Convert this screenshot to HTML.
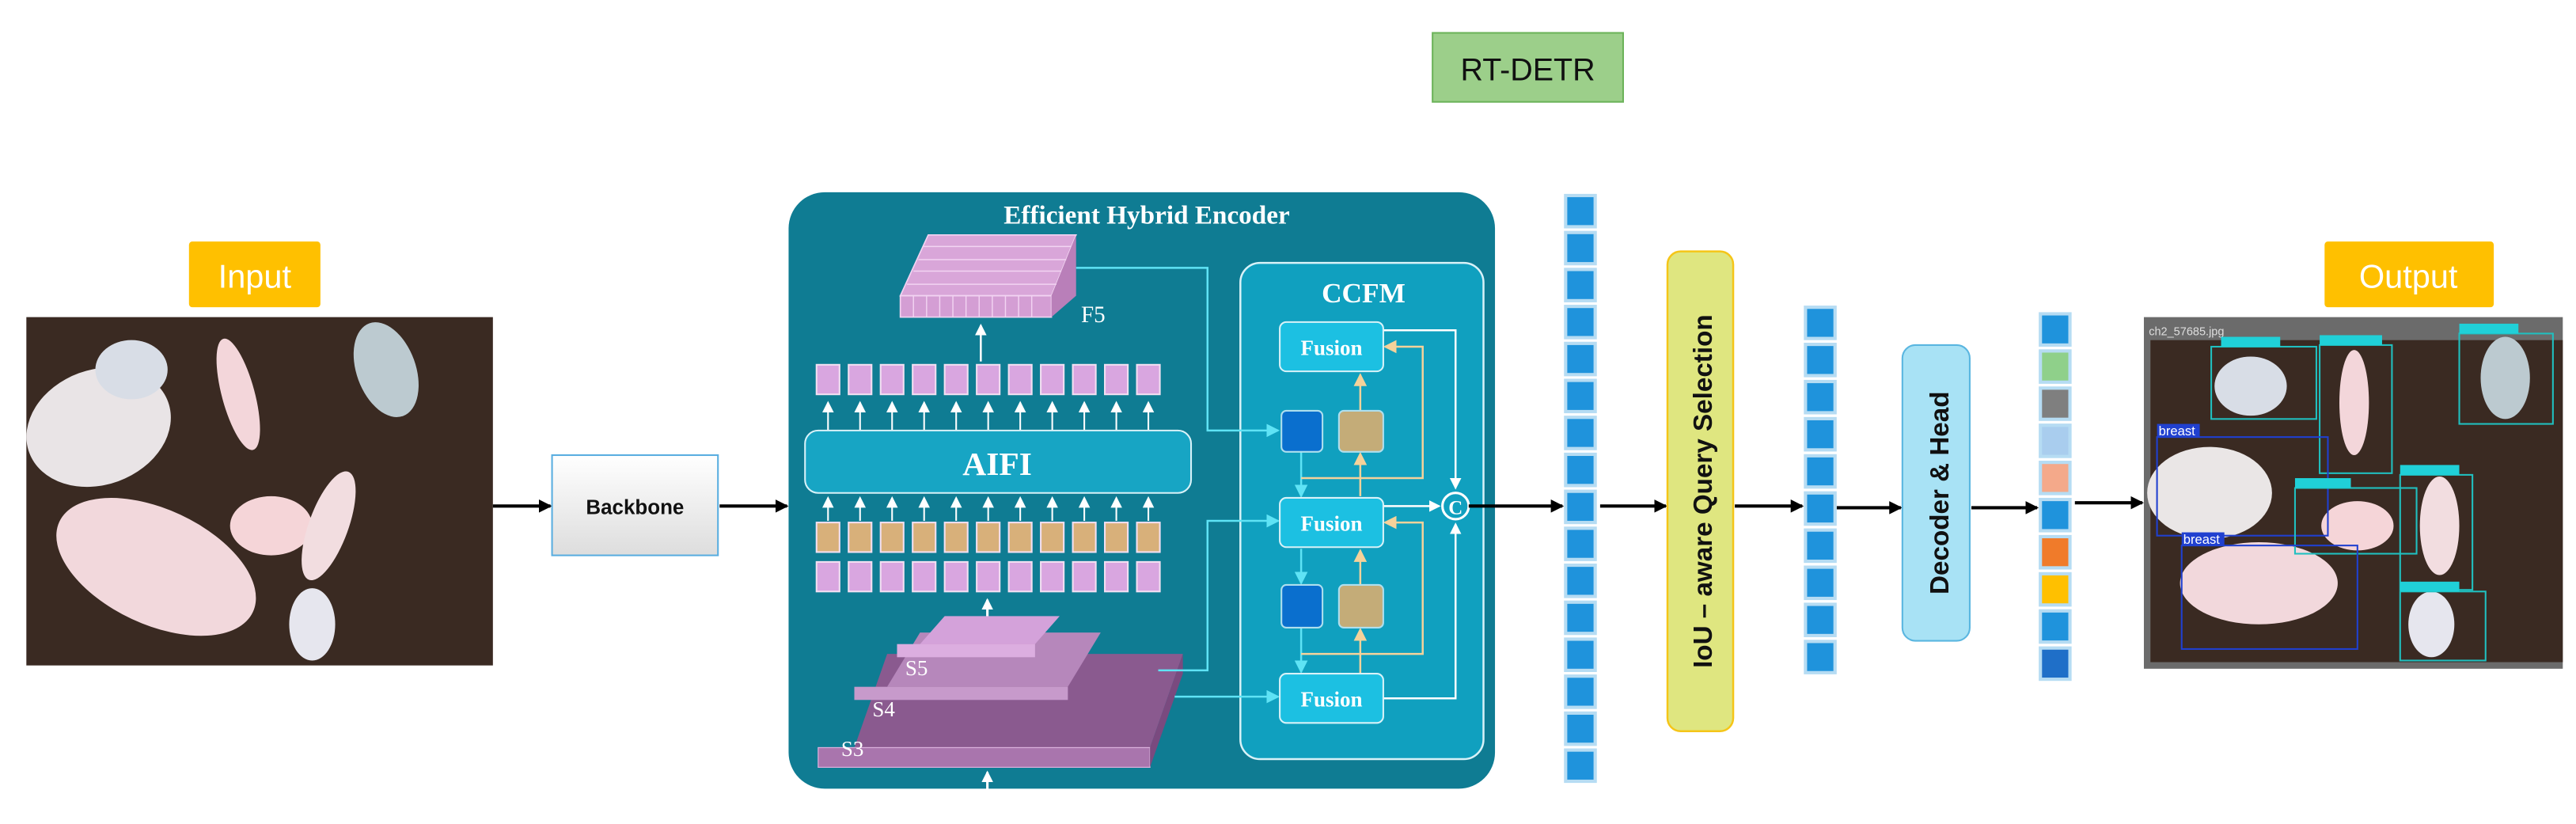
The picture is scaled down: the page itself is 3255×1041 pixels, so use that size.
<!DOCTYPE html>
<html><head><meta charset="utf-8"><style>html,body{margin:0;padding:0;background:#fff}svg{display:block}</style></head>
<body>
<svg width="3255" height="1041" viewBox="0 0 1568 501.5" xmlns="http://www.w3.org/2000/svg" font-family="Liberation Sans, sans-serif">
<defs>
<marker id="ab" markerWidth="8" markerHeight="8" refX="7" refY="4" orient="auto" markerUnits="userSpaceOnUse"><path d="M0,0 L8,4 L0,8z" fill="#000"/></marker>
<marker id="aw" markerWidth="7" markerHeight="7" refX="6" refY="3.5" orient="auto" markerUnits="userSpaceOnUse"><path d="M0,0 L7,3.5 L0,7z" fill="#fff"/></marker>
<marker id="ac" markerWidth="8" markerHeight="8" refX="7" refY="4" orient="auto" markerUnits="userSpaceOnUse"><path d="M0,0 L8,4 L0,8z" fill="#5fe3f5"/></marker>
<marker id="at" markerWidth="8" markerHeight="8" refX="7" refY="4" orient="auto" markerUnits="userSpaceOnUse"><path d="M0,0 L8,4 L0,8z" fill="#f5d29a"/></marker>
<linearGradient id="bb" x1="0" y1="0" x2="0" y2="1"><stop offset="0" stop-color="#fff"/><stop offset="1" stop-color="#ddd"/></linearGradient>
</defs>

<!-- RT-DETR -->
<rect x="872" y="20" width="116" height="42" fill="#9ccf8a" stroke="#6cb35a" stroke-width="1"/>
<text x="930" y="49" font-size="19" text-anchor="middle" fill="#111">RT-DETR</text>

<!-- Input -->
<rect x="115" y="147" width="80" height="40" fill="#ffc000" rx="2"/>
<text x="155" y="175" font-size="20" text-anchor="middle" fill="#fff">Input</text>
<rect x="16" y="193" width="284" height="212" fill="#3a2a22"/>
<g fill="#e9e4e6">
<ellipse cx="60" cy="260" rx="45" ry="35" transform="rotate(-20 60 260)"/>
<ellipse cx="95" cy="345" rx="65" ry="35" transform="rotate(25 95 345)" fill="#f2d8dc"/>
<ellipse cx="80" cy="225" rx="22" ry="18" fill="#d8dde6"/>
<ellipse cx="145" cy="240" rx="10" ry="35" transform="rotate(-15 145 240)" fill="#f3d6da"/>
<ellipse cx="235" cy="225" rx="18" ry="30" transform="rotate(-20 235 225)" fill="#bccad0"/>
<ellipse cx="165" cy="320" rx="25" ry="18" fill="#f5d5d8"/>
<ellipse cx="200" cy="320" rx="12" ry="35" transform="rotate(20 200 320)" fill="#f2dde0"/>
<ellipse cx="190" cy="380" rx="14" ry="22" fill="#e6e6ee"/>
</g>

<!-- arrows -->
<g stroke="#000" stroke-width="2" fill="none" marker-end="url(#ab)">
<line x1="300" y1="308" x2="335" y2="308"/>
<line x1="438" y1="308" x2="479" y2="308"/>
<line x1="910" y1="308" x2="951" y2="308"/>
<line x1="974" y1="308" x2="1014" y2="308"/>
<line x1="1056" y1="308" x2="1097" y2="308"/>
<line x1="1118" y1="309" x2="1157" y2="309"/>
<line x1="1200" y1="309" x2="1240" y2="309"/>
<line x1="1263" y1="306" x2="1304" y2="306"/>
</g>

<!-- Backbone -->
<rect x="336" y="277" width="101" height="61" fill="url(#bb)" stroke="#5aaee0" stroke-width="1"/>
<text x="386.5" y="313" font-size="12.5" font-weight="bold" text-anchor="middle" fill="#111">Backbone</text>

<!-- Encoder -->
<rect x="480" y="117" width="430" height="363" rx="22" fill="#0f7c93"/>
<text x="698" y="136" font-family="Liberation Serif, serif" font-size="16" font-weight="bold" fill="#fff" text-anchor="middle">Efficient Hybrid Encoder</text>
<!-- F5 grid -->
<polygon points="565,143 655,143 640,180 548,180" fill="#d9a6d9" stroke="#f2d4f2" stroke-width="0.8"/>
<rect x="548" y="180" width="92" height="13" fill="#d49ed4" stroke="#f2d4f2" stroke-width="0.8"/>
<polygon points="640,180 655,143 655,180 640,193" fill="#b97fb9"/>
<g stroke="#f2d4f2" stroke-width="0.7">
<line x1="562" y1="150" x2="652" y2="150"/><line x1="559" y1="158" x2="649" y2="158"/><line x1="556" y1="165" x2="646" y2="165"/><line x1="552" y1="173" x2="643" y2="173"/>
<line x1="556" y1="180" x2="556" y2="193"/><line x1="564" y1="180" x2="564" y2="193"/><line x1="572" y1="180" x2="572" y2="193"/><line x1="580" y1="180" x2="580" y2="193"/><line x1="588" y1="180" x2="588" y2="193"/><line x1="596" y1="180" x2="596" y2="193"/><line x1="604" y1="180" x2="604" y2="193"/><line x1="612" y1="180" x2="612" y2="193"/><line x1="620" y1="180" x2="620" y2="193"/><line x1="628" y1="180" x2="628" y2="193"/>
</g>
<text x="658" y="196" font-family="Liberation Serif, serif" font-size="14" fill="#fff">F5</text>
<line x1="597" y1="220" x2="597" y2="198" stroke="#fff" stroke-width="1.2" marker-end="url(#aw)"/>
<!-- square rows -->
<g stroke="#f2e0f2" stroke-width="1">
<g fill="#d9a6e0">
<rect x="497" y="222" width="14" height="18"/><rect x="516.5" y="222" width="14" height="18"/><rect x="536" y="222" width="14" height="18"/><rect x="555.5" y="222" width="14" height="18"/><rect x="575" y="222" width="14" height="18"/><rect x="594.5" y="222" width="14" height="18"/><rect x="614" y="222" width="14" height="18"/><rect x="633.5" y="222" width="14" height="18"/><rect x="653" y="222" width="14" height="18"/><rect x="672.5" y="222" width="14" height="18"/><rect x="692" y="222" width="14" height="18"/>
<rect x="497" y="342" width="14" height="18"/><rect x="516.5" y="342" width="14" height="18"/><rect x="536" y="342" width="14" height="18"/><rect x="555.5" y="342" width="14" height="18"/><rect x="575" y="342" width="14" height="18"/><rect x="594.5" y="342" width="14" height="18"/><rect x="614" y="342" width="14" height="18"/><rect x="633.5" y="342" width="14" height="18"/><rect x="653" y="342" width="14" height="18"/><rect x="672.5" y="342" width="14" height="18"/><rect x="692" y="342" width="14" height="18"/>
</g>
<g fill="#d8b07a">
<rect x="497" y="318" width="14" height="18"/><rect x="516.5" y="318" width="14" height="18"/><rect x="536" y="318" width="14" height="18"/><rect x="555.5" y="318" width="14" height="18"/><rect x="575" y="318" width="14" height="18"/><rect x="594.5" y="318" width="14" height="18"/><rect x="614" y="318" width="14" height="18"/><rect x="633.5" y="318" width="14" height="18"/><rect x="653" y="318" width="14" height="18"/><rect x="672.5" y="318" width="14" height="18"/><rect x="692" y="318" width="14" height="18"/>
</g>
</g>
<g stroke="#fff" stroke-width="1" marker-end="url(#aw)">
<line x1="504" y1="262" x2="504" y2="245"/><line x1="523.5" y1="262" x2="523.5" y2="245"/><line x1="543" y1="262" x2="543" y2="245"/><line x1="562.5" y1="262" x2="562.5" y2="245"/><line x1="582" y1="262" x2="582" y2="245"/><line x1="601.5" y1="262" x2="601.5" y2="245"/><line x1="621" y1="262" x2="621" y2="245"/><line x1="640.5" y1="262" x2="640.5" y2="245"/><line x1="660" y1="262" x2="660" y2="245"/><line x1="679.5" y1="262" x2="679.5" y2="245"/><line x1="699" y1="262" x2="699" y2="245"/>
<line x1="504" y1="317" x2="504" y2="303"/><line x1="523.5" y1="317" x2="523.5" y2="303"/><line x1="543" y1="317" x2="543" y2="303"/><line x1="562.5" y1="317" x2="562.5" y2="303"/><line x1="582" y1="317" x2="582" y2="303"/><line x1="601.5" y1="317" x2="601.5" y2="303"/><line x1="621" y1="317" x2="621" y2="303"/><line x1="640.5" y1="317" x2="640.5" y2="303"/><line x1="660" y1="317" x2="660" y2="303"/><line x1="679.5" y1="317" x2="679.5" y2="303"/><line x1="699" y1="317" x2="699" y2="303"/>
</g>
<rect x="490" y="262" width="235" height="38" rx="8" fill="#17a5c4" stroke="#d8f2f8" stroke-width="1"/>
<text x="607" y="289" font-family="Liberation Serif, serif" font-size="20" font-weight="bold" fill="#fff" text-anchor="middle">AIFI</text>
<line x1="601" y1="395" x2="601" y2="365" stroke="#fff" stroke-width="1.5" marker-end="url(#aw)"/>
<!-- S layers -->
<polygon points="520,455 700,455 720,398 540,398" fill="#8a5a8f"/>
<rect x="498" y="455" width="202" height="12" fill="#a975ad" stroke="#d9b0dc" stroke-width="0.6"/>
<polygon points="700,455 720,398 720,410 700,467" fill="#7a4a7f"/>
<polygon points="540,418 650,418 670,385 560,385" fill="#b687bb"/>
<rect x="520" y="418" width="130" height="8" fill="#c79acb"/>
<polygon points="560,392 630,392 645,375 575,375" fill="#d4a2da"/>
<rect x="546" y="392" width="84" height="8" fill="#dcaee0"/>
<text x="551" y="411" font-family="Liberation Serif, serif" font-size="13" fill="#fff">S5</text>
<text x="531" y="436" font-family="Liberation Serif, serif" font-size="13" fill="#fff">S4</text>
<text x="512" y="460" font-family="Liberation Serif, serif" font-size="13" fill="#fff">S3</text>
<line x1="601" y1="482" x2="601" y2="470" stroke="#fff" stroke-width="1.5" marker-end="url(#aw)"/>

<!-- CCFM -->
<rect x="755" y="160" width="148" height="302" rx="12" fill="#10a0bf" stroke="#d8f2f8" stroke-width="1.2"/>
<text x="830" y="184" font-family="Liberation Serif, serif" font-size="17" font-weight="bold" fill="#fff" text-anchor="middle">CCFM</text>
<!-- cyan connectors -->
<g stroke="#5fe3f5" stroke-width="1.2" fill="none" marker-end="url(#ac)">
<polyline points="655,163 735,163 735,262 778,262"/>
<polyline points="705,408 735,408 735,317 778,317"/>
<polyline points="715,424 778,424"/>
<line x1="792" y1="275" x2="792" y2="302"/>
<line x1="792" y1="334" x2="792" y2="355"/>
<line x1="792" y1="382" x2="792" y2="409"/>
</g>
<!-- tan connectors -->
<g stroke="#f5d29a" stroke-width="1.2" fill="none" marker-end="url(#at)">
<line x1="828" y1="250" x2="828" y2="228"/>
<line x1="828" y1="356" x2="828" y2="335"/>
<line x1="828" y1="302" x2="828" y2="276"/>
<line x1="828" y1="410" x2="828" y2="383"/>
<polyline points="792,291 866,291 866,211 843,211"/>
<polyline points="792,398 866,398 866,318 843,318"/>
</g>
<!-- white connectors -->
<g stroke="#fff" stroke-width="1.2" fill="none" marker-end="url(#aw)">
<polyline points="842,201 886,201 886,297"/>
<polyline points="842,425 886,425 886,319"/>
<line x1="842" y1="308" x2="876" y2="308"/>
</g>
<circle cx="886" cy="308" r="8" fill="#10a0bf" stroke="#fff" stroke-width="1.5"/>
<text x="886" y="313" font-family="Liberation Serif, serif" font-size="12" font-weight="bold" fill="#fff" text-anchor="middle">C</text>
<line x1="894" y1="308" x2="910" y2="308" stroke="#000" stroke-width="2"/>
<g fill="#1cc0e2" stroke="#d8f2f8" stroke-width="1">
<rect x="779" y="196" width="63" height="30" rx="4"/>
<rect x="779" y="303" width="63" height="30" rx="4"/>
<rect x="779" y="410" width="63" height="30" rx="4"/>
</g>
<g font-family="Liberation Serif, serif" font-size="13" font-weight="bold" fill="#fff" text-anchor="middle">
<text x="810.5" y="216">Fusion</text><text x="810.5" y="323">Fusion</text><text x="810.5" y="430">Fusion</text>
</g>
<g stroke="#aedfee" stroke-width="1">
<rect x="780" y="250" width="25" height="25" rx="3" fill="#0a6fce"/>
<rect x="780" y="356" width="25" height="26" rx="3" fill="#0a6fce"/>
<rect x="815" y="250" width="27" height="25" rx="3" fill="#c4ac78"/>
<rect x="815" y="356" width="27" height="26" rx="3" fill="#c4ac78"/>
</g>

<!-- columns -->
<g fill="#1f93dc" stroke="#b6dcf3" stroke-width="2">
<rect x="953" y="119" width="18" height="19"/><rect x="953" y="141.5" width="18" height="19"/><rect x="953" y="164" width="18" height="19"/><rect x="953" y="186.5" width="18" height="19"/><rect x="953" y="209" width="18" height="19"/><rect x="953" y="231.5" width="18" height="19"/><rect x="953" y="254" width="18" height="19"/><rect x="953" y="276.5" width="18" height="19"/><rect x="953" y="299" width="18" height="19"/><rect x="953" y="321.5" width="18" height="19"/><rect x="953" y="344" width="18" height="19"/><rect x="953" y="366.5" width="18" height="19"/><rect x="953" y="389" width="18" height="19"/><rect x="953" y="411.5" width="18" height="19"/><rect x="953" y="434" width="18" height="19"/><rect x="953" y="456.5" width="18" height="19"/>
<rect x="1099" y="187" width="18" height="19"/><rect x="1099" y="209.6" width="18" height="19"/><rect x="1099" y="232.2" width="18" height="19"/><rect x="1099" y="254.8" width="18" height="19"/><rect x="1099" y="277.4" width="18" height="19"/><rect x="1099" y="300" width="18" height="19"/><rect x="1099" y="322.6" width="18" height="19"/><rect x="1099" y="345.2" width="18" height="19"/><rect x="1099" y="367.8" width="18" height="19"/><rect x="1099" y="390.4" width="18" height="19"/>
<rect x="1242" y="191" width="18" height="19"/>
<rect x="1242" y="213.6" width="18" height="19" fill="#8fd08a"/>
<rect x="1242" y="236.2" width="18" height="19" fill="#7f7f7f"/>
<rect x="1242" y="258.8" width="18" height="19" fill="#a9cdee"/>
<rect x="1242" y="281.4" width="18" height="19" fill="#f4a98a"/>
<rect x="1242" y="304" width="18" height="19"/>
<rect x="1242" y="326.6" width="18" height="19" fill="#f07b2a"/>
<rect x="1242" y="349.2" width="18" height="19" fill="#ffc000"/>
<rect x="1242" y="371.8" width="18" height="19"/>
<rect x="1242" y="394.4" width="18" height="19" fill="#1f6fc8"/>
</g>

<!-- IoU -->
<rect x="1015" y="153" width="40" height="292" rx="8" fill="#dfe680" stroke="#f5c518" stroke-width="1.2"/>
<text transform="translate(1042 299) rotate(-90)" font-size="16" font-weight="bold" text-anchor="middle" fill="#111">IoU – aware Query Selection</text>
<!-- Decoder -->
<rect x="1158" y="210" width="41" height="180" rx="8" fill="#a8e2f5" stroke="#5ab6e0" stroke-width="1"/>
<text transform="translate(1186 300) rotate(-90)" font-size="16" font-weight="bold" text-anchor="middle" fill="#111">Decoder &amp; Head</text>

<!-- Output -->
<rect x="1415" y="147" width="103" height="40" fill="#ffc000" rx="2"/>
<text x="1466" y="175" font-size="20" text-anchor="middle" fill="#fff">Output</text>
<rect x="1305" y="193" width="255" height="214" fill="#6b6b6b"/>
<rect x="1309" y="207" width="251" height="196" fill="#3a2a22"/>
<text x="1308" y="204" font-size="7" fill="#ddd">ch2_57685.jpg</text>
<g fill="#e9e4e6">
<ellipse cx="1370" cy="235" rx="22" ry="18" fill="#d8dde6"/>
<ellipse cx="1433" cy="245" rx="9" ry="32" fill="#f3d6da"/>
<ellipse cx="1525" cy="230" rx="15" ry="25" fill="#bccad0"/>
<ellipse cx="1345" cy="300" rx="38" ry="28" fill="#eae6e6"/>
<ellipse cx="1375" cy="355" rx="48" ry="25" fill="#f2d8dc"/>
<ellipse cx="1435" cy="320" rx="22" ry="15" fill="#f5d5d8"/>
<ellipse cx="1485" cy="320" rx="12" ry="30" fill="#f2dde0"/>
<ellipse cx="1480" cy="380" rx="14" ry="20" fill="#e6e6ee"/>
</g>
<g fill="none" stroke-width="1">
<rect x="1346" y="211" width="64" height="44" stroke="#20c0c0"/>
<rect x="1412" y="210" width="44" height="78" stroke="#20c0c0"/>
<rect x="1497" y="203" width="57" height="55" stroke="#20c0c0"/>
<rect x="1313" y="266" width="104" height="60" stroke="#2040d0"/>
<rect x="1397" y="297" width="74" height="40" stroke="#20c0c0"/>
<rect x="1461" y="289" width="44" height="70" stroke="#20c0c0"/>
<rect x="1328" y="332" width="107" height="63" stroke="#2040d0"/>
<rect x="1461" y="360" width="52" height="42" stroke="#20c0c0"/>
</g>
<g fill="#20d0d8">
<rect x="1352" y="205" width="36" height="6"/><rect x="1412" y="204" width="38" height="6"/><rect x="1497" y="197" width="36" height="6"/><rect x="1397" y="291" width="34" height="6"/><rect x="1461" y="283" width="36" height="6"/><rect x="1461" y="354" width="36" height="6"/>
</g>
<rect x="1313" y="258" width="26" height="8" fill="#2040d0"/>
<text x="1314" y="265" font-size="8" fill="#fff">breast</text>
<rect x="1328" y="324" width="26" height="8" fill="#2040d0"/>
<text x="1329" y="331" font-size="8" fill="#fff">breast</text>
</svg>
</body></html>
